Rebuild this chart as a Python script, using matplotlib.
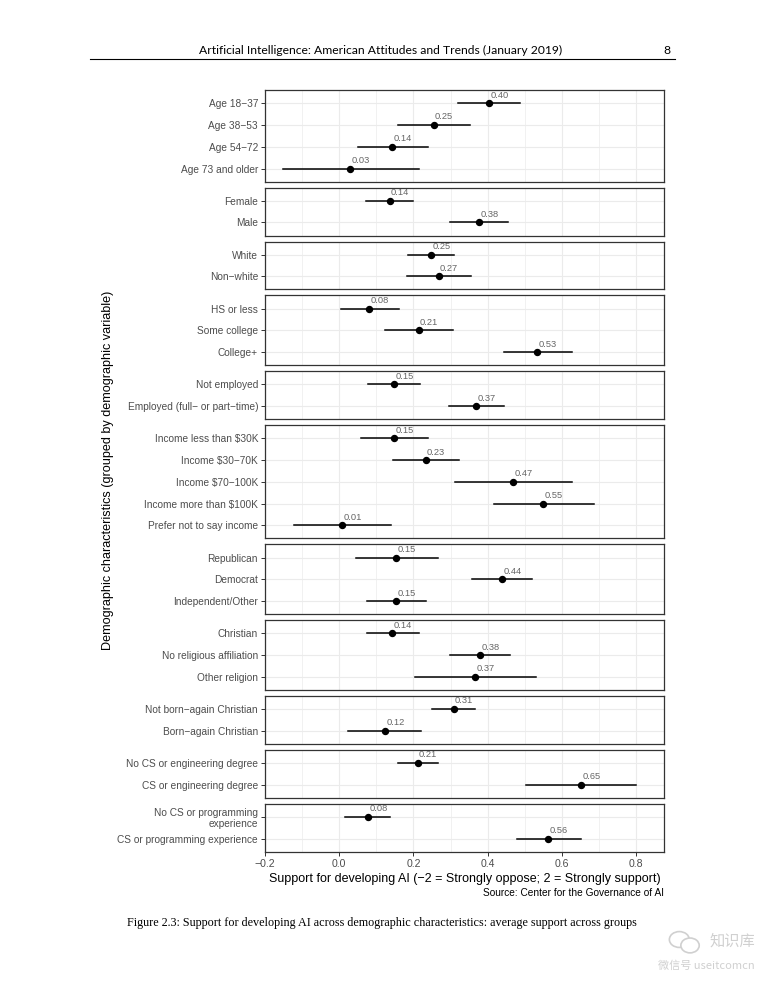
import matplotlib
matplotlib.use("Agg")
import matplotlib.pyplot as plt
from matplotlib.patches import Ellipse
import numpy as np

# data
group_sizes = [4, 2, 2, 3, 2, 5, 3, 3, 2, 2, 2]
labels = ["Age 18−37", "Age 38−53", "Age 54−72", "Age 73 and older",
          "Female", "Male",
          "White", "Non−white",
          "HS or less", "Some college", "College+",
          "Not employed", "Employed (full− or part−time)",
          "Income less than $30K", "Income $30−70K", "Income $70−100K",
          "Income more than $100K", "Prefer not to say income",
          "Republican", "Democrat", "Independent/Other",
          "Christian", "No religious affiliation", "Other religion",
          "Not born−again Christian", "Born−again Christian",
          "No CS or engineering degree", "CS or engineering degree",
          "No CS or programming\nexperience", "CS or programming experience"]
est = [0.403, 0.254, 0.142, 0.030,
       0.136, 0.376,
       0.247, 0.268,
       0.081, 0.214, 0.533,
       0.147, 0.369,
       0.147, 0.233, 0.469, 0.550, 0.007,
       0.153, 0.438, 0.153,
       0.143, 0.380, 0.367,
       0.308, 0.123,
       0.211, 0.651,
       0.077, 0.563]
lo = [0.321, 0.159, 0.050, -0.152,
      0.073, 0.299,
      0.185, 0.182,
      0.005, 0.123, 0.443,
      0.077, 0.297,
      0.058, 0.146, 0.313, 0.416, -0.122,
      0.044, 0.358, 0.075,
      0.075, 0.299, 0.204,
      0.249, 0.024,
      0.159, 0.502,
      0.016, 0.478]
hi = [0.486, 0.353, 0.238, 0.214,
      0.200, 0.455,
      0.309, 0.356,
      0.161, 0.306, 0.627,
      0.217, 0.443,
      0.240, 0.324, 0.627, 0.687, 0.140,
      0.267, 0.519, 0.234,
      0.215, 0.461, 0.531,
      0.366, 0.221,
      0.266, 0.800,
      0.137, 0.652]
xticks = [-0.2, 0.0, 0.2, 0.4, 0.6, 0.8]

plt.rcParams['font.family'] = ['Liberation Sans', 'DejaVu Sans']

fig = plt.figure(figsize=(7.65, 9.9), dpi=100)
gs = fig.add_gridspec(len(group_sizes), 1, height_ratios=[n + 0.2 for n in group_sizes],
                      hspace=0.094, left=0.3464, right=0.868, top=0.909, bottom=0.1397)

start = 0
for i, n in enumerate(group_sizes):
    ax = fig.add_subplot(gs[i])
    idx = range(start, start + n)
    ys = np.arange(n)
    for j, k in enumerate(idx):
        ax.plot([lo[k], hi[k]], [j, j], color='black', lw=1.1, zorder=3)
        ax.plot(est[k], j, 'o', color='black', ms=4.3, zorder=4)
        ax.annotate(f"{est[k]:.2f}", (est[k], j), xytext=(1, 2.5), textcoords='offset points',
                    ha='left', va='bottom', fontsize=6.7, color='#666666')
    ax.set_xlim(-0.2, 0.875)
    ax.set_ylim(n - 1 + 0.6, -0.6)
    ax.set_yticks(ys)
    ax.set_yticklabels([labels[k] for k in idx], fontsize=7.3, color='#4d4d4d', linespacing=1.1)
    ax.set_xticks(xticks)
    ax.set_xticks(np.arange(-0.1, 0.81, 0.2), minor=True)
    ax.grid(True, which='major', color='#ebebeb', lw=0.8)
    ax.grid(True, which='minor', axis='x', color='#ebebeb', lw=0.5)
    ax.set_axisbelow(True)
    ax.tick_params(axis='y', length=3, width=0.7, color='#333333', pad=2)
    ax.tick_params(axis='x', which='minor', length=0)
    for s in ax.spines.values():
        s.set_color('#333333')
        s.set_linewidth(0.9)
    if i < len(group_sizes) - 1:
        ax.tick_params(axis='x', which='major', length=0, labelbottom=False)
    else:
        ax.tick_params(axis='x', which='major', length=3, width=0.7, color='#333333',
                       labelsize=7.6, labelcolor='#4d4d4d', pad=2)
        ax.set_xticklabels([f"{v:.1f}".replace('-', '−') for v in xticks])
        ax.set_xlabel("Support for developing AI (−2 = Strongly oppose; 2 = Strongly support)",
                      fontsize=9, labelpad=3)
    start += n

fig.text(0.141, 0.525, "Demographic characteristics (grouped by demographic variable)",
         rotation=90, ha='center', va='center', fontsize=9.1)
fig.text(0.868, 0.0975, "Source: Center for the Governance of AI", ha='right', va='center', fontsize=7.3)

# page header and caption
fig.text(0.498, 0.949, "Artificial Intelligence: American Attitudes and Trends (January 2019)",
         ha='center', va='center', fontsize=8.7, family='Lato')
fig.text(0.877, 0.949, "8", ha='right', va='center', fontsize=8.7, family='Lato')
fig.add_artist(plt.Line2D([0.118, 0.882], [0.9405, 0.9405], color='black', lw=0.8))
fig.text(0.166, 0.0675,
         "Figure 2.3: Support for developing AI across demographic characteristics: average support across groups",
         ha='left', va='center', fontsize=8.7, family='Liberation Serif')

# watermark
fig.add_artist(Ellipse((0.888, 0.051), 0.026, 0.016, transform=fig.transFigure,
                       fill=False, ec='#d0d0d0', lw=1.2))
fig.add_artist(Ellipse((0.902, 0.045), 0.024, 0.015, transform=fig.transFigure,
                       fc='white', ec='#d0d0d0', lw=1.2))
fig.text(0.987, 0.049, "知识库", ha='right', va='center', fontsize=11, color='#d0d0d0',
         family=['Noto Sans CJK SC', 'DejaVu Sans'])
fig.text(0.987, 0.025, "微信号 useitcomcn", ha='right', va='center', fontsize=8, color='#d0d0d0',
         family=['Noto Sans CJK SC', 'DejaVu Sans'])

fig.savefig("out.png", dpi=100)
